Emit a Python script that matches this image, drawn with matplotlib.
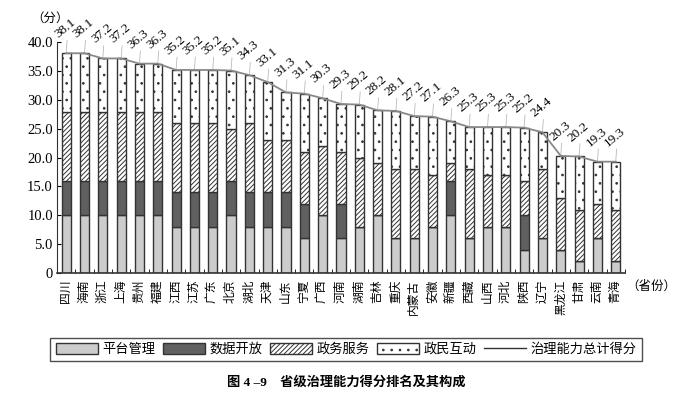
import matplotlib.pyplot as plt
from matplotlib.patches import Patch
from matplotlib.lines import Line2D

plt.rcParams['font.family'] = ['Liberation Serif', 'Noto Sans CJK SC']
plt.rcParams['hatch.linewidth'] = 0.7

provinces = ["四川", "海南", "浙江", "上海", "贵州", "福建", "江西", "江苏", "广东", "北京",
             "湖北", "天津", "山东", "宁夏", "广西", "河南", "湖南", "吉林", "重庆", "内蒙古",
             "安徽", "新疆", "西藏", "山西", "河北", "陕西", "辽宁", "黑龙江", "甘肃", "云南", "青海"]
platform = [10, 10, 10, 10, 10, 10, 8, 8, 8, 10, 8, 8, 8, 6, 10, 6, 8, 10, 6, 6,
            8, 10, 6, 8, 8, 4, 6, 4, 2, 6, 2]
data_open = [6, 6, 6, 6, 6, 6, 6, 6, 6, 6, 6, 6, 6, 6, 0, 6, 0, 0, 0, 0,
             0, 6, 0, 0, 0, 6, 0, 0, 0, 0, 0]
service = [12, 12, 12, 12, 12, 12, 12, 12, 12, 9, 12, 9, 9, 9, 12, 9, 12, 9, 12, 12,
           9, 3, 12, 9, 9, 6, 12, 9, 9, 6, 9]
interact = [10.1, 10.1, 9.2, 9.2, 8.3, 8.3, 9.2, 9.2, 9.2, 10.1, 8.3, 10.1, 8.3, 10.1, 8.3, 8.3, 9.2, 9.2, 10.1, 9.2,
            10.1, 7.3, 7.3, 8.3, 8.3, 9.2, 6.4, 7.3, 9.2, 7.3, 8.3]
totals = [38.1, 38.1, 37.2, 37.2, 36.3, 36.3, 35.2, 35.2, 35.2, 35.1, 34.3, 33.1, 31.3, 31.1, 30.3, 29.3,
          29.2, 28.2, 28.1, 27.2, 27.1, 26.3, 25.3, 25.3, 25.3, 25.2, 24.4, 20.3, 20.2, 19.3, 19.3]

fig = plt.figure(figsize=(6.92, 4.09), dpi=100)
ax = fig.add_axes([0.0824, 0.3325, 0.8206, 0.5641])

x = list(range(len(provinces)))
edge = '#333333'
w = 0.5
b1 = platform
b2 = [a + b for a, b in zip(b1, data_open)]
b3 = [a + b for a, b in zip(b2, service)]
ax.bar(x, platform, w, color='#cccccc', edgecolor=edge, lw=1)
ax.bar(x, data_open, w, bottom=b1, color='#606060', edgecolor=edge, lw=1)
ax.bar(x, service, w, bottom=b2, color='white', edgecolor=edge, hatch='///////', lw=1)
ax.bar(x, interact, w, bottom=b3, color='white', edgecolor=edge, hatch='..', lw=1)
ax.plot(x, totals, color='#888888', lw=1.3, zorder=3)

for i, t in enumerate(totals):
    ax.plot([i, i + 0.05], [t, t + 2.2], color='#bbbbbb', lw=0.6, clip_on=False)
    ax.text(i - 0.32, t + 2.2, f"{t:.1f}", rotation=40, rotation_mode='anchor',
            ha='left', va='bottom', fontsize=9.5, clip_on=False)

ax.set_xlim(-0.5, len(provinces) - 0.5)
ax.set_ylim(0, 40)
ax.set_yticks([0, 5, 10, 15, 20, 25, 30, 35, 40])
ax.set_yticklabels(["0", "5.0", "10.0", "15.0", "20.0", "25.0", "30.0", "35.0", "40.0"], fontsize=10.5)
ax.tick_params(axis='y', direction='in', length=3, pad=3)
ax.set_xticks(x)
ax.set_xticklabels(provinces, fontsize=8.5, rotation=90, ha='center', va='top')
ax.tick_params(axis='x', length=0, pad=5)
ax.set_xticks([i - 0.5 for i in range(len(provinces) + 1)], minor=True)
ax.tick_params(axis='x', which='minor', direction='in', length=3)
for s in ['top', 'right']:
    ax.spines[s].set_visible(False)
ax.spines['left'].set_color(edge)
ax.spines['bottom'].set_color(edge)
ax.spines['bottom'].set_linewidth(1.2)

fig.text(0.045, 0.955, "（分）", fontsize=9, ha='left', va='center')
fig.text(0.905, 0.30, "（省份）", fontsize=9, ha='left', va='center')

handles = [Patch(facecolor='#cccccc', edgecolor=edge),
           Patch(facecolor='#606060', edgecolor=edge),
           Patch(facecolor='white', edgecolor=edge, hatch='///////'),
           Patch(facecolor='white', edgecolor=edge, hatch='..'),
           Line2D([], [], color='#333333', lw=1)]
labels = ["平台管理", "数据开放", "政务服务", "政民互动", "治理能力总计得分"]
leg = fig.legend(handles, labels, loc='center', bbox_to_anchor=(0.5, 0.145), ncol=5,
                 fontsize=9.5, frameon=True, fancybox=False, edgecolor='#222222',
                 handlelength=3.2, handleheight=0.8, columnspacing=0.6, handletextpad=0.3,
                 borderpad=0.4)
leg.get_frame().set_linewidth(1)

fig.text(0.5, 0.064, "图 4 –9　省级治理能力得分排名及其构成", fontsize=9.5, fontweight='bold',
         ha='center', va='center')

fig.savefig("out.png", dpi=100)
